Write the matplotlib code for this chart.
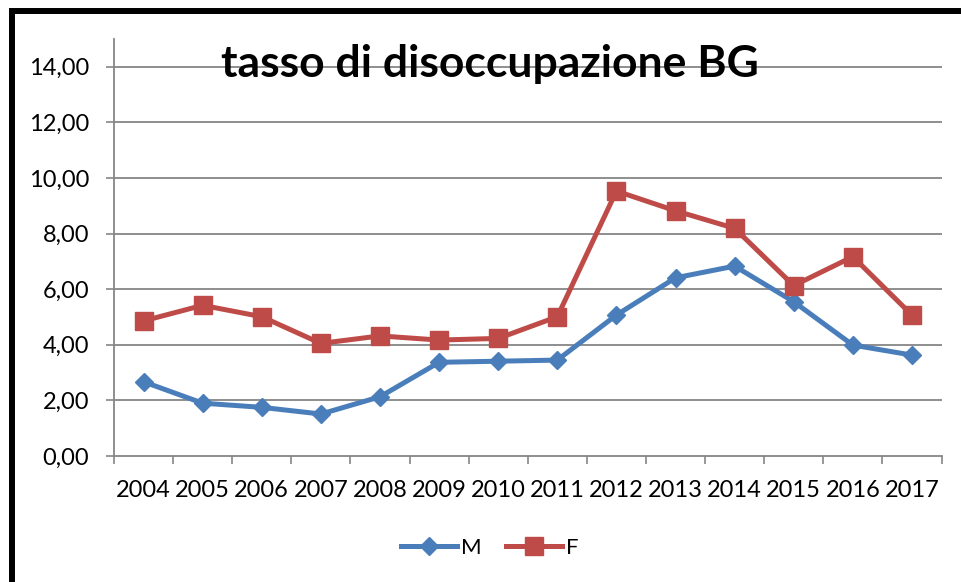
import matplotlib.pyplot as plt
from matplotlib.lines import Line2D
from matplotlib.ticker import FuncFormatter, FixedLocator

# Data
years = ['2004', '2005', '2006', '2007', '2008', '2009', '2010',
         '2011', '2012', '2013', '2014', '2015', '2016', '2017']
m_vals = [2.67, 1.90, 1.75, 1.51, 2.13, 3.37, 3.41,
          3.45, 5.07, 6.41, 6.83, 5.55, 3.99, 3.63]
f_vals = [4.86, 5.42, 5.01, 4.05, 4.32, 4.17, 4.23,
          5.01, 9.53, 8.82, 8.19, 6.13, 7.17, 5.07]

blue = '#4A7EBB'
red = '#BE4B48'
grey = '#868686'

plt.rcParams['font.family'] = ['Lato', 'DejaVu Sans']

fig = plt.figure(figsize=(9.61, 5.82), dpi=100)
ax = fig.add_axes([114 / 961, 126 / 582, (941.5 - 114) / 961, (456 - 39) / 582])

x = list(range(len(years)))
ax.plot(x, m_vals, color=blue, lw=3.6, marker='D', ms=9,
        mec=blue, mfc=blue, label='M', zorder=3)
ax.plot(x, f_vals, color=red, lw=3.6, marker='s', ms=13,
        mec=red, mfc=red, label='F', zorder=3)

ax.set_xlim(-0.5, len(years) - 0.5)
ax.set_ylim(0, 15)

# y axis
ax.set_yticks(range(0, 15, 2))
ax.yaxis.set_major_formatter(FuncFormatter(lambda v, p: f'{v:.2f}'.replace('.', ',')))
ax.tick_params(axis='y', length=6, width=1.2, color=grey, pad=12, labelsize=17)
for v in range(2, 15, 2):
    ax.axhline(v, color=grey, lw=1.3, zorder=1)

# x axis: labels centred, tick marks between categories
ax.set_xticks(x)
ax.set_xticklabels(years)
ax.tick_params(axis='x', which='major', length=0, pad=17, labelsize=17)
ax.xaxis.set_minor_locator(FixedLocator([i - 0.5 for i in range(len(years) + 1)]))
ax.tick_params(axis='x', which='minor', length=6, width=1.2, color=grey)

for s in ['top', 'right']:
    ax.spines[s].set_visible(False)
for s in ['left', 'bottom']:
    ax.spines[s].set_color(grey)
    ax.spines[s].set_linewidth(1.3)

# title
fig.text(489.5 / 961, 1 - 64 / 582, 'tasso di disoccupazione BG',
         ha='center', va='center', fontsize=32, fontweight='bold')

# legend
fig.legend(loc='center', bbox_to_anchor=(490 / 961, 34 / 582), ncol=2,
           frameon=False, fontsize=16, handlelength=2.5, handletextpad=0.2,
           columnspacing=1.1)

# outer border (only top and left visible in the crop)
fig.add_artist(Line2D([11.5 / 961, 11.5 / 961, 1.01], [-0.01, 1 - 11 / 582, 1 - 11 / 582],
                      transform=fig.transFigure, color='black', lw=4.3,
                      solid_joinstyle='miter'))

fig.savefig('out.png', dpi=100)
